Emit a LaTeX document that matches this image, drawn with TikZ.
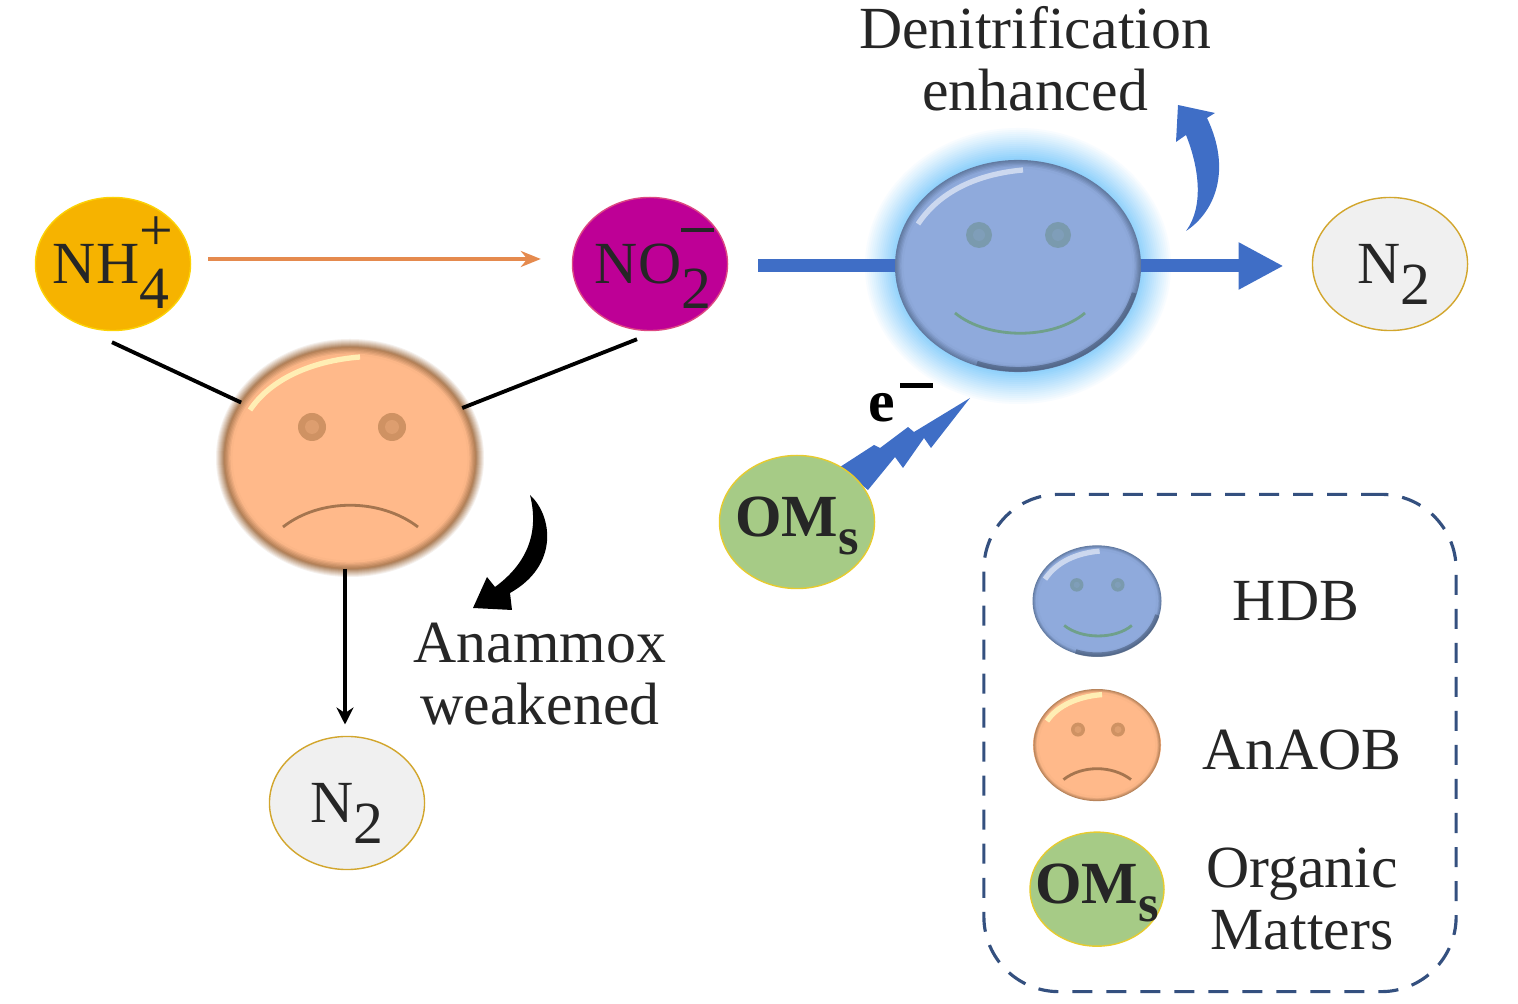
\documentclass[tikz,border=0pt]{standalone}
\usepackage{fontspec}
\setmainfont{Liberation Serif}
\usetikzlibrary{shapes.geometric,arrows.meta,calc}
\definecolor{hdbblue}{HTML}{8FAADC}
\definecolor{hdbrim}{HTML}{5A7297}
\definecolor{glowblue}{HTML}{8CCFFB}
\definecolor{anaorange}{HTML}{FFB98A}
\definecolor{anarim}{HTML}{A87850}
\definecolor{arrowblue}{HTML}{3F6EC6}
\definecolor{feedorange}{HTML}{E58A4E}
\definecolor{keyblue}{HTML}{34507F}
\definecolor{ammoniayellow}{HTML}{F6B300}
\definecolor{nitritepink}{HTML}{BE0096}
\definecolor{organicgreen}{HTML}{A6CB86}
\definecolor{eyeblue}{HTML}{7A9AAE}
\definecolor{mouthgreen}{HTML}{6FA08A}
\definecolor{eyebrown}{HTML}{CF9263}
\tikzstyle{species} = [draw, ellipse, inner sep=0pt, minimum width=1.55cm, minimum height=1.33cm, text=black!85]
\tikzstyle{gas} = [species, fill=black!6, draw=brown!70!yellow]
\tikzstyle{organics} = [species, fill=organicgreen, draw=yellow!60!brown, font=\fontsize{17}{18}\selectfont\bfseries]
\tikzstyle{label} = [align=center, text=black!85, inner sep=0pt]
\tikzstyle{hdbface} = [ellipse, inner sep=0pt, fill=hdbblue, minimum width=2.44cm, minimum height=2.1cm]
\tikzstyle{anaface} = [ellipse, inner sep=0pt, fill=anaorange, minimum width=2.5cm, minimum height=2.2cm]
\tikzstyle{line} = [draw, line width=1.1pt]
\tikzstyle{flow} = [draw=arrowblue, line width=3.7pt]
\newcommand{\tight}[1]{\smash{\raisebox{-.33em}{\makebox[0pt]{#1}}}}
\newcommand{\subup}[2]{\rlap{\raisebox{-.42em}{#1}}\raisebox{.55em}{#2}}
\newcommand{\oms}{\smash{\raisebox{-.24em}{\makebox[0pt]{OM\raisebox{-.3em}{\fontsize{15}{16}\selectfont s}}}}}
\newcommand{\ballrim}[4]{\foreach \k [evaluate=\k as \p using 85-\k*16] in {0,...,5}
    \draw[#3!\p!#4, line width=.6pt] (0,0) ellipse ({#1-\k*1.3} and {#2-\k*1.3});}
\newcommand{\smileface}[2]{\begin{scope}[shift={(#1)},scale=#2]
    \ballrim{122}{105}{hdbrim}{hdbblue}
    \fill[eyeblue] (-39,-31) circle (13);
    \fill[eyeblue] (40,-31) circle (13);
    \fill[eyeblue!75!hdbblue] (-39,-31) circle (6);
    \fill[eyeblue!75!hdbblue] (40,-31) circle (6);
    \draw[mouthgreen, line width=.8pt] (-63,47) .. controls (-30,74) and (35,74) .. (67,47);
    \draw[white, opacity=.55, line width=1.5pt] (-100,-42) .. controls (-78,-75) and (-40,-92) .. (5,-96);
    \draw[hdbrim!80!black, opacity=.6, line width=1.3pt] (116,27) arc (15:110:120 and 103);
    \end{scope}}
\newcommand{\frownface}[2]{\begin{scope}[shift={(#1)},scale=#2]
    \ballrim{125}{110}{anarim}{anaorange}
    \fill[eyebrown] (-38,-31) circle (14);
    \fill[eyebrown] (42,-31) circle (14);
    \fill[eyebrown!70!anaorange] (-38,-31) circle (7);
    \fill[eyebrown!70!anaorange] (42,-31) circle (7);
    \draw[eyebrown!80!black, line width=.8pt] (-67,69) .. controls (-30,40) and (30,40) .. (68,69);
    \draw[yellow!25!white, opacity=.8, line width=1.5pt] (-100,-48) .. controls (-80,-78) and (-40,-97) .. (10,-101);
    \end{scope}}

\begin{document}
\begin{tikzpicture}[x=0.01cm, y=-0.01cm, node distance=1.44cm, font=\fontsize{17}{17.6}\selectfont]
        \useasboundingbox (0,0) rectangle (1518,1004);
        % halos go under everything else
        \foreach \k [evaluate=\k as \p using \k*6] in {0,...,16}
            \fill[glowblue!\p!white] (1018,266) ellipse ({155-\k*2} and {140-\k*2});
        \foreach \k [evaluate=\k as \p using \k*11] in {0,...,8}
            \fill[anarim!\p!white] (350,458) ellipse ({135-\k} and {120-\k});
        % bolt and curved arrows
        \fill[arrowblue] (970,398) -- (914,432) -- (908,427) -- (880,448) -- (874,445) -- (840,467) -- (868,490) -- (895,457) -- (903,468) -- (924,438) -- (931,448) -- cycle;
        \fill[arrowblue] (1186,231) .. controls (1215,212) and (1232,170) .. (1207,118) -- (1215,113) -- (1178,105) -- (1176,142) -- (1186,135) .. controls (1198,165) and (1205,205) .. (1186,231) -- cycle;
        \fill[black] (530,495) .. controls (552,515) and (560,565) .. (510,593) -- (512,610) -- (473,608) -- (487,577) -- (495,587) .. controls (525,565) and (540,535) .. (530,495) -- cycle;

        \node[species, fill=ammoniayellow, draw=yellow!70!orange] (nh4) at (113,264) {\tight{NH\subup{4}{+}}};
        \node[species, fill=nitritepink, draw=magenta!60!brown] (no2) at (650,264) {\tight{\kern.09cm NO\subup{2}{\rule[.32em]{.55em}{.06em}}}};
        \node[hdbface] (hdb) at (1018,266) {};
        \smileface{hdb}{1}
        \node[anaface] (ana) at (350,458) {};
        \frownface{ana}{1}
        \node[gas] (gasright) at (1390,264) {\tight{\kern.08cm N\raisebox{-.35em}{2}}};
        \node[gas] (gasdown) at (347,803) {\tight{N\raisebox{-.35em}{2}}};
        \node[organics] (om) at (797,522) {\oms};

        \path[draw=feedorange, line width=1.4pt, -{Stealth[length=.2cm,width=.16cm]}, shorten <=4.8pt, shorten >=8.8pt] ($(nh4.east)+(0,-5)$) -- ($(no2.west)+(0,-5)$);
        \path[flow, shorten <=8.5pt] (no2.east |- hdb.west) -- (hdb.west);
        \path[flow, -{Triangle[length=.45cm,width=.44cm]}, shorten >=8pt] (hdb.east) -- (gasright.west |- hdb.east);
        \path[line] ($(nh4.south)+(-1,11)$) -- (ana.153);
        \path[line] ($(no2.south)+(-13,8)$) -- (ana.24);
        \path[line, -{Stealth[length=.17cm,width=.17cm]}, shorten >=3.2pt] ($(ana.south -| gasdown.north)+(-2,0)$) -- ($(gasdown.north)+(-2,0)$);

        \node[label] (up) at (1035,59) {Denitrification\\enhanced};
        \node[label] (down) at (540,674) {Anammox\\weakened};
        \node[label, text=black, font=\fontsize{17}{18}\selectfont\bfseries] (electron) at (882,408) {e\rlap{\smash{\raisebox{.34cm}{\kern.05cm\rule{.33cm}{.05cm}}}}};

        % key
        \node[draw=keyblue, line width=.9pt, dash pattern=on .2cm off .14cm, rounded corners=.75cm, minimum width=4.72cm, minimum height=4.97cm] (key) at (1220,743) {};
        \node[hdbface, minimum width=1.28cm, minimum height=1.1cm] (hdbkey) at (1097,601) {};
        \smileface{hdbkey}{.52}
        \node[anaface, minimum width=1.28cm, minimum height=1.1cm, below of=hdbkey] (anakey) {};
        \frownface{anakey}{.5}
        \node[organics, minimum width=1.34cm, minimum height=1.14cm, below of=anakey] (omkey) {\oms};
        \node[label] (hdbname) at (1296,601) {HDB};
        \node[label, below of=hdbname, xshift=.06cm, yshift=-.05cm] (ananame) {AnAOB};
        \node[label] (omname) at (1302,899) {Organic\\Matters};
\end{tikzpicture}
\end{document}
